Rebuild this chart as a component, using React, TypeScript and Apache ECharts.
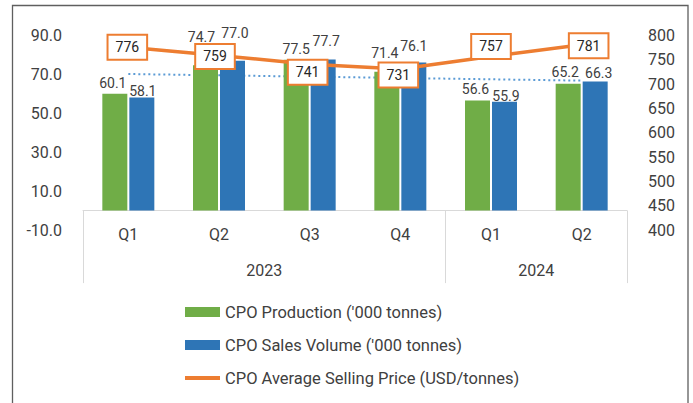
import React, { useEffect, useRef } from "react";
import * as echarts from "echarts";

// ---- data ----
const quarters = ["Q1", "Q2", "Q3", "Q4", "Q1", "Q2"];
const years = ["2023", "2024"];
const yearSpans = [4, 2];
const production = [60.1, 74.7, 77.5, 71.4, 56.6, 65.2];
const salesVolume = [58.1, 77.0, 77.7, 76.1, 55.9, 66.3];
const avgPrice = [776, 759, 741, 731, 757, 781];
// dotted trendline of sales volume: first and last point
const salesTrendEnds = [70.2, 66.8];
const leftTicks = [-10, 10, 30, 50, 70, 90];
const rightTicks = [400, 450, 500, 550, 600, 650, 700, 750, 800];

// ---- label nudges (styling only) ----
const prodLabelOffsets = [[-2, 1.5], [-4, -16.5], [0, 1.5], [-2, -6.5], [-2, 0.5], [-3, 0.5]];
const salesLabelOffsets = [[1, 5.5], [2.5, -15.5], [3, -6.5], [0, -4.5], [1.5, 6], [3.5, 3.5]];
const priceLabelOffsets = [[-1, 0], [-4, 1], [-2, 8], [-2, 6], [0, -10], [7, 1]];

const FONT = "Roboto";
const TXT = "#404040";
const GREEN = "#70AD47";
const BLUE = "#2E75B6";
const ORANGE = "#ED7D31";
const AXIS_GREY = "#D9D9D9";

export default function App() {
  const ref = useRef<HTMLDivElement>(null);

  useEffect(() => {
    if (!ref.current) return;
    const chart = echarts.init(ref.current, null, { renderer: "svg" });

    const categories = quarters.map((q, i) => `${i < yearSpans[0] ? years[0] : years[1]} ${q}`);
    const bounds: number[] = [0];
    yearSpans.forEach((s) => bounds.push(bounds[bounds.length - 1] + s));
    const yearCenters = yearSpans.map((s, i) => bounds[i] + s / 2);

    const trendData: (number | null)[] = categories.map(() => null);
    trendData[0] = salesTrendEnds[0];
    trendData[trendData.length - 1] = salesTrendEnds[1];

    const barLabel = {
      show: true,
      position: "top" as const,
      color: TXT,
      fontFamily: FONT,
      fontSize: 14,
      formatter: (p: any) => Number(p.value).toFixed(1),
    };

    const option: any = {
      animation: false,
      backgroundColor: "#ffffff",
      textStyle: { fontFamily: FONT },
      graphic: [
        {
          type: "rect",
          shape: { x: 12.5, y: 5.5, width: 675.5, height: 420 },
          style: { fill: "none", stroke: "#5f5f5f", lineWidth: 1.3 },
          silent: true,
          z: -1,
        },
      ],
      grid: [
        { left: 83, right: 66, top: 35.5, bottom: 173 },
        { left: 83, right: 66, top: 100, bottom: 403 - 210.6 },
      ],
      legend: {
        orient: "vertical",
        left: 178,
        top: 297,
        itemWidth: 35,
        itemHeight: 10,
        itemGap: 13,
        textStyle: { color: TXT, fontFamily: FONT, fontSize: 16.5, lineHeight: 20 },
        data: [
          { name: "CPO Production ('000 tonnes)", icon: "rect" },
          { name: "CPO Sales Volume ('000 tonnes)", icon: "rect" },
          {
            name: "CPO Average Selling Price (USD/tonnes)",
            itemStyle: { opacity: 0 },
            lineStyle: { width: 4 },
          },
        ],
      },
      xAxis: [
        {
          type: "category",
          gridIndex: 0,
          data: categories,
          position: "bottom",
          axisLine: { show: true, onZero: true, lineStyle: { color: AXIS_GREY, width: 1 } },
          axisTick: { show: false },
          axisLabel: {
            color: TXT,
            fontFamily: FONT,
            fontSize: 16,
            margin: -3.5,
            interval: 0,
            formatter: (_v: string, i: number) => quarters[i],
          },
          splitLine: { show: false },
        },
        {
          type: "value",
          gridIndex: 1,
          min: 0,
          max: bounds[bounds.length - 1],
          position: "bottom",
          axisLine: { show: false },
          splitLine: { show: false },
          axisTick: {
            show: true,
            customValues: bounds,
            length: 72.5,
            lineStyle: { color: AXIS_GREY, width: 1 },
          },
          axisLabel: {
            customValues: yearCenters,
            color: TXT,
            fontFamily: FONT,
            fontSize: 16,
            margin: 52,
            formatter: (v: number) => {
              const k = yearCenters.indexOf(v);
              return k >= 0 ? years[k] : "";
            },
          },
        },
      ],
      yAxis: [
        {
          type: "value",
          gridIndex: 0,
          position: "left",
          min: leftTicks[0],
          max: leftTicks[leftTicks.length - 1],
          axisLine: { show: false },
          axisTick: { show: false },
          splitLine: { show: false },
          axisLabel: {
            customValues: leftTicks,
            color: TXT,
            fontFamily: FONT,
            fontSize: 16,
            margin: 21,
            formatter: (v: number) => v.toFixed(1),
          },
        },
        {
          type: "value",
          gridIndex: 0,
          position: "right",
          min: rightTicks[0],
          max: rightTicks[rightTicks.length - 1],
          axisLine: { show: false },
          axisTick: { show: false },
          splitLine: { show: false },
          axisLabel: {
            customValues: rightTicks,
            color: TXT,
            fontFamily: FONT,
            fontSize: 16,
            margin: 21,
          },
        },
        { type: "value", gridIndex: 1, show: false, min: 0, max: 1 },
      ],
      series: [
        {
          name: "Sales trend",
          type: "line",
          xAxisIndex: 0,
          yAxisIndex: 0,
          data: trendData,
          connectNulls: true,
          symbol: "none",
          z: 1,
          lineStyle: { color: "#5B9BD5", width: 2, type: [2, 3] },
          silent: true,
        },
        {
          name: "CPO Production ('000 tonnes)",
          type: "bar",
          xAxisIndex: 0,
          yAxisIndex: 0,
          barWidth: 25,
          barGap: "8%",
          z: 2,
          itemStyle: { color: GREEN },
          data: production.map((v, i) => ({ value: v, label: { offset: prodLabelOffsets[i] } })),
          label: barLabel,
        },
        {
          name: "CPO Sales Volume ('000 tonnes)",
          type: "bar",
          xAxisIndex: 0,
          yAxisIndex: 0,
          barWidth: 25,
          barGap: "8%",
          z: 2,
          itemStyle: { color: BLUE },
          data: salesVolume.map((v, i) => ({ value: v, label: { offset: salesLabelOffsets[i] } })),
          label: barLabel,
        },
        {
          name: "CPO Average Selling Price (USD/tonnes)",
          type: "line",
          xAxisIndex: 0,
          yAxisIndex: 1,
          symbol: "circle",
          symbolSize: 1,
          z: 3,
          itemStyle: { color: ORANGE },
          lineStyle: { color: ORANGE, width: 3.5 },
          data: avgPrice.map((v, i) => ({ value: v, label: { offset: priceLabelOffsets[i] } })),
          label: {
            show: true,
            position: "inside",
            color: "#262626",
            fontFamily: FONT,
            fontSize: 14,
            backgroundColor: "#ffffff",
            borderColor: ORANGE,
            borderWidth: 2,
            padding: [5, 7, 4, 7],
          },
        },
      ],
    };

    chart.setOption(option);
    return () => chart.dispose();
  }, []);

  return (
    <div
      ref={ref}
      style={{ position: "absolute", left: 0, top: 0, width: 693, height: 403, background: "#fff" }}
    />
  );
}
